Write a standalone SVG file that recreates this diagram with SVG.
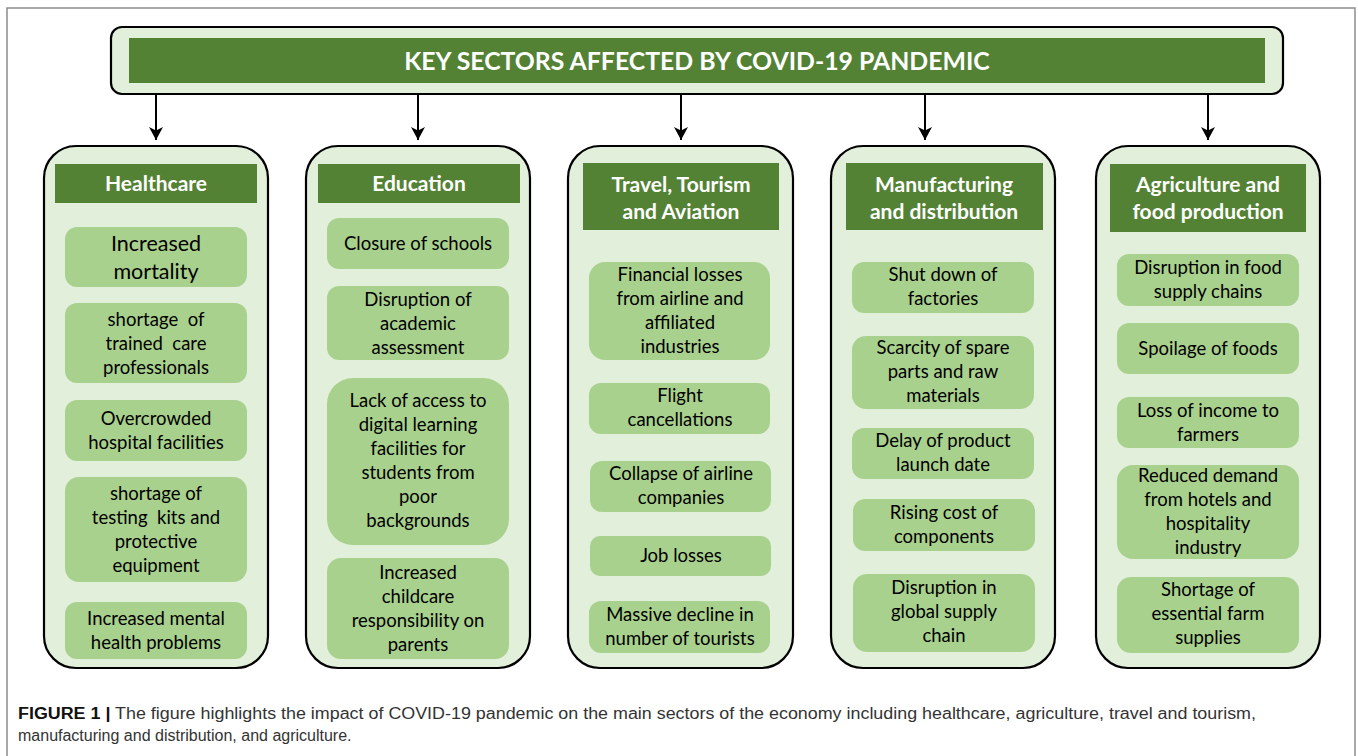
<svg xmlns="http://www.w3.org/2000/svg" width="1358" height="756" viewBox="0 0 1358 756">
<style>
.frame{fill:#ffffff;stroke:#8c8c8c;stroke-width:1.5}
.col{fill:#e2efda;stroke:#000;stroke-width:2.2}
.hdr{fill:#548235}
.item{fill:#a9d18e}
.ht{font-family:Lato,"Liberation Sans",sans-serif;font-weight:bold;font-size:21px;fill:#fff;text-anchor:middle}
.it{font-family:Lato,"Liberation Sans",sans-serif;font-size:18.5px;fill:#000;text-anchor:middle;white-space:pre}
.big{font-size:21.5px}
.title{font-family:Lato,"Liberation Sans",sans-serif;font-weight:bold;font-size:24.8px;fill:#fff;text-anchor:middle}
.cap{font-family:"Liberation Sans",Arial,sans-serif;font-size:16px;fill:#333}
.conn{stroke:#000;stroke-width:2;fill:none}
</style>
<defs>
<marker id="ah" viewBox="0 0 14 14" refX="7" refY="14" markerWidth="14" markerHeight="14" markerUnits="userSpaceOnUse">
<path d="M0,1 L7,4.5 L14,1 L7,14 Z" fill="#000"/>
</marker>
</defs>
<rect class="frame" x="7" y="8" width="1348" height="760"/>

<g id="title">
<rect x="111" y="27" width="1172" height="67" rx="11" fill="#e2efda" stroke="#000" stroke-width="2.2"/>
<rect class="hdr" x="129" y="38" width="1136" height="45"/>
<text class="title" x="697" y="70">KEY SECTORS AFFECTED BY COVID-19 PANDEMIC</text>
</g>

<g id="connectors">
<line class="conn" x1="156" y1="95" x2="156" y2="140" marker-end="url(#ah)"/>
<line class="conn" x1="418" y1="95" x2="418" y2="140" marker-end="url(#ah)"/>
<line class="conn" x1="681" y1="95" x2="681" y2="140" marker-end="url(#ah)" stroke-width="2.5"/>
<line class="conn" x1="925" y1="95" x2="925" y2="140" marker-end="url(#ah)"/>
<line class="conn" x1="1208" y1="95" x2="1208" y2="140" marker-end="url(#ah)"/>
</g>

<g id="healthcare">
<rect class="col" x="44" y="146" width="224" height="522" rx="32"/>
<rect class="hdr" x="55" y="164" width="202" height="39"/>
<text class="ht" x="156" y="191">Healthcare</text>
<rect class="item" x="65" y="227" width="182" height="60" rx="12"/>
<text class="it big" x="156" y="251">Increased</text>
<text class="it big" x="156" y="279">mortality</text>
<rect class="item" x="65" y="303" width="182" height="80" rx="12"/>
<text class="it" x="156" y="326" xml:space="preserve">shortage  of</text>
<text class="it" x="156" y="350" xml:space="preserve">trained  care</text>
<text class="it" x="156" y="374">professionals</text>
<rect class="item" x="65" y="400" width="182" height="61" rx="12"/>
<text class="it" x="156" y="425">Overcrowded</text>
<text class="it" x="156" y="449">hospital facilities</text>
<rect class="item" x="65" y="477" width="182" height="105" rx="14"/>
<text class="it" x="156" y="500">shortage of</text>
<text class="it" x="156" y="524" xml:space="preserve">testing  kits and</text>
<text class="it" x="156" y="548">protective</text>
<text class="it" x="156" y="572">equipment</text>
<rect class="item" x="65" y="602" width="182" height="57" rx="12"/>
<text class="it" x="156" y="625">Increased mental</text>
<text class="it" x="156" y="649">health problems</text>
</g>

<g id="education">
<rect class="col" x="306" y="146" width="224" height="522" rx="32"/>
<rect class="hdr" x="318" y="164" width="202" height="39"/>
<text class="ht" x="419" y="191">Education</text>
<rect class="item" x="327" y="218" width="182" height="51" rx="12"/>
<text class="it" x="418" y="250">Closure of schools</text>
<rect class="item" x="327" y="286" width="182" height="74" rx="12"/>
<text class="it" x="418" y="306">Disruption of</text>
<text class="it" x="418" y="330">academic</text>
<text class="it" x="418" y="354">assessment</text>
<rect class="item" x="327" y="378" width="182" height="167" rx="26"/>
<text class="it" x="418" y="407">Lack of access to</text>
<text class="it" x="418" y="431">digital learning</text>
<text class="it" x="418" y="455">facilities for</text>
<text class="it" x="418" y="479">students from</text>
<text class="it" x="418" y="503">poor</text>
<text class="it" x="418" y="527">backgrounds</text>
<rect class="item" x="327" y="558" width="182" height="101" rx="14"/>
<text class="it" x="418" y="579">Increased</text>
<text class="it" x="418" y="603">childcare</text>
<text class="it" x="418" y="627">responsibility on</text>
<text class="it" x="418" y="651">parents</text>
</g>

<g id="travel">
<rect class="col" x="568" y="146" width="225" height="522" rx="32"/>
<rect class="hdr" x="583" y="163" width="196" height="67"/>
<text class="ht" x="681" y="192">Travel, Tourism</text>
<text class="ht" x="681" y="219">and Aviation</text>
<rect class="item" x="589" y="262" width="181" height="98" rx="16"/>
<text class="it" x="680" y="281">Financial losses</text>
<text class="it" x="680" y="305">from airline and</text>
<text class="it" x="680" y="329">affiliated</text>
<text class="it" x="680" y="353">industries</text>
<rect class="item" x="589" y="383" width="181" height="51" rx="12"/>
<text class="it" x="680" y="402">Flight</text>
<text class="it" x="680" y="426">cancellations</text>
<rect class="item" x="590" y="461" width="181" height="51" rx="12"/>
<text class="it" x="681" y="480">Collapse of airline</text>
<text class="it" x="681" y="504">companies</text>
<rect class="item" x="590" y="536" width="181" height="40" rx="10"/>
<text class="it" x="681" y="562">Job losses</text>
<rect class="item" x="589" y="601" width="181" height="52" rx="12"/>
<text class="it" x="680" y="621">Massive decline in</text>
<text class="it" x="680" y="645">number of tourists</text>
</g>

<g id="manufacturing">
<rect class="col" x="831" y="146" width="224" height="522" rx="32"/>
<rect class="hdr" x="846" y="163" width="197" height="67"/>
<text class="ht" x="944" y="192">Manufacturing</text>
<text class="ht" x="944" y="219">and distribution</text>
<rect class="item" x="852" y="262" width="182" height="51" rx="12"/>
<text class="it" x="943" y="281">Shut down of</text>
<text class="it" x="943" y="305">factories</text>
<rect class="item" x="852" y="336" width="182" height="73" rx="14"/>
<text class="it" x="943" y="354">Scarcity of spare</text>
<text class="it" x="943" y="378">parts and raw</text>
<text class="it" x="943" y="402">materials</text>
<rect class="item" x="852" y="428" width="182" height="51" rx="12"/>
<text class="it" x="943" y="447">Delay of product</text>
<text class="it" x="943" y="471">launch date</text>
<rect class="item" x="853" y="499" width="182" height="52" rx="12"/>
<text class="it" x="944" y="519">Rising cost of</text>
<text class="it" x="944" y="543">components</text>
<rect class="item" x="853" y="574" width="182" height="78" rx="14"/>
<text class="it" x="944" y="594">Disruption in</text>
<text class="it" x="944" y="618">global supply</text>
<text class="it" x="944" y="642">chain</text>
</g>

<g id="agriculture">
<rect class="col" x="1096" y="146" width="224" height="522" rx="32"/>
<rect class="hdr" x="1110" y="164" width="196" height="68"/>
<text class="ht" x="1208" y="192">Agriculture and</text>
<text class="ht" x="1208" y="219">food production</text>
<rect class="item" x="1117" y="254" width="182" height="52" rx="12"/>
<text class="it" x="1208" y="274">Disruption in food</text>
<text class="it" x="1208" y="298">supply chains</text>
<rect class="item" x="1117" y="323" width="182" height="51" rx="12"/>
<text class="it" x="1208" y="355">Spoilage of foods</text>
<rect class="item" x="1117" y="397" width="182" height="51" rx="12"/>
<text class="it" x="1208" y="417">Loss of income to</text>
<text class="it" x="1208" y="441">farmers</text>
<rect class="item" x="1117" y="465" width="182" height="94" rx="16"/>
<text class="it" x="1208" y="482">Reduced demand</text>
<text class="it" x="1208" y="506">from hotels and</text>
<text class="it" x="1208" y="530">hospitality</text>
<text class="it" x="1208" y="554">industry</text>
<rect class="item" x="1117" y="577" width="182" height="76" rx="14"/>
<text class="it" x="1208" y="596">Shortage of</text>
<text class="it" x="1208" y="620">essential farm</text>
<text class="it" x="1208" y="644">supplies</text>
</g>

<g id="caption">
<text class="cap" x="18" y="719" textLength="1238" lengthAdjust="spacingAndGlyphs"><tspan font-weight="bold" fill="#111">FIGURE 1 |</tspan> The figure highlights the impact of COVID-19 pandemic on the main sectors of the economy including healthcare, agriculture, travel and tourism,</text>
<text class="cap" x="18" y="741">manufacturing and distribution, and agriculture.</text>
</g>
</svg>
